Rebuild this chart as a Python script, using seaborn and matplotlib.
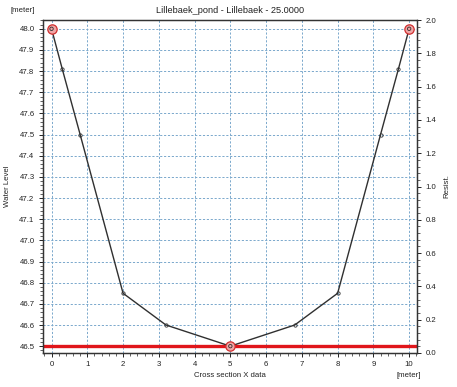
import matplotlib
matplotlib.use("Agg")
import matplotlib.pyplot as plt
from matplotlib.ticker import MultipleLocator, FormatStrFormatter
import seaborn as sns
import pandas as pd

# data
x_vals = [0.0, 0.3, 0.8, 2.0, 3.2, 5.0, 6.8, 8.0, 9.2, 9.7, 10.0]
z_vals = [48.0, 47.81, 47.5, 46.75, 46.6, 46.5, 46.6, 46.75, 47.5, 47.81, 48.0]
marker_x = [0.0, 5.0, 10.0]
marker_z = [48.0, 46.5, 48.0]
water_level = 46.5
title = "Lillebaek_pond - Lillebaek - 25.0000"

df = pd.DataFrame({"x": x_vals, "z": z_vals})
mk = pd.DataFrame({"x": marker_x, "z": marker_z})

sns.set_style("white")
plt.rcParams["font.family"] = ["Liberation Sans", "DejaVu Sans"]

fig = plt.figure(figsize=(4.57, 3.87), dpi=100)
ax = fig.add_axes([0.094, 0.088, 0.8185, 0.860])

grid_c = "#7aa8cc"
ax.set_xlim(-0.24, 10.22)
ax.set_ylim(46.468, 48.041)
ax.xaxis.set_major_locator(MultipleLocator(1))
ax.xaxis.set_minor_locator(MultipleLocator(0.2))
ax.yaxis.set_major_locator(MultipleLocator(0.1))
ax.yaxis.set_minor_locator(MultipleLocator(0.02))
ax.grid(True, which="major", color=grid_c, linestyle=(0, (2.2, 1.8)), linewidth=0.7)
ax.set_axisbelow(True)

ax.axhline(water_level, color="#e0161b", linewidth=2.4, zorder=2)

sns.lineplot(data=df, x="x", y="z", ax=ax, color="#303030", linewidth=1.0,
             marker="o", markersize=2.4, markerfacecolor="none",
             markeredgecolor="#303030", markeredgewidth=0.6, sort=False,
             estimator=None, zorder=3)
sns.scatterplot(data=mk, x="x", y="z", ax=ax, s=45, color="#f0a6a6",
                edgecolor="#d03030", linewidth=0.9, zorder=4, legend=False)
sns.scatterplot(data=mk, x="x", y="z", ax=ax, s=6, color="none",
                edgecolor="#303030", linewidth=0.6, zorder=5, legend=False)

fs = 5.6
ax.yaxis.set_major_formatter(FormatStrFormatter("%.1f"))
ax.tick_params(axis="both", which="major", direction="out", length=3, width=0.7,
               labelsize=fs, colors="#222222", pad=3)
ax.tick_params(axis="both", which="minor", direction="out", length=2, width=0.5,
               colors="#222222")
ax.tick_params(axis="x", which="both", bottom=True, top=False)
ax.tick_params(axis="y", which="both", left=True, right=False)
ax.set_xlabel("Cross section X data", fontsize=fs, labelpad=3, color="#222222")
ax.set_ylabel("Water Level", fontsize=fs, labelpad=6, color="#222222")
for s in ax.spines.values():
    s.set_color("#333333")
    s.set_linewidth(0.9)

ax2 = ax.twinx()
ax2.set_ylim(0.0, 2.0)
ax2.yaxis.set_major_locator(MultipleLocator(0.2))
ax2.yaxis.set_minor_locator(MultipleLocator(0.04))
ax2.yaxis.set_major_formatter(FormatStrFormatter("%.1f"))
ax2.tick_params(axis="y", which="major", direction="out", length=3, width=0.7,
                labelsize=fs, colors="#222222", pad=3)
ax2.tick_params(axis="y", which="minor", direction="out", length=2, width=0.5,
                colors="#222222")
ax2.set_ylabel("Resist.", fontsize=fs, labelpad=5, color="#222222")
for s in ax2.spines.values():
    s.set_color("#333333")
    s.set_linewidth(0.9)

ax.set_title(title, fontsize=6.6, pad=5, color="#222222")
fig.text(0.022, 0.974, "[meter]", fontsize=fs, color="#222222", va="center", ha="left")
fig.text(0.895, 0.030, "[meter]", fontsize=fs, color="#222222", va="center", ha="center")

fig.savefig("out.png", dpi=100)
